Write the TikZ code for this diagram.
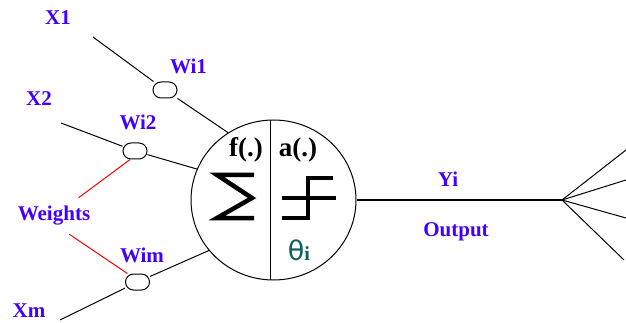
\documentclass[tikz,border=0pt]{standalone}
\usepackage{fontspec}
\setmainfont{Liberation Serif}
\newfontfamily\thetafont{DejaVu Sans}
\usetikzlibrary{positioning, shapes.geometric}
\definecolor{labelblue}{HTML}{4400FF}
\definecolor{thetateal}{HTML}{0F5F5F}
\tikzset{
  lbl/.style={text=labelblue, font=\bfseries\fontsize{21}{23}\selectfont, inner sep=0pt},
  blk/.style={text=black, font=\bfseries\fontsize{27}{29}\selectfont, inner sep=0pt},
  weightbox/.style={draw, rounded corners=8pt, minimum width=24pt, minimum height=16pt, inner sep=0pt, line width=1pt},
  wire/.style={line width=1pt},
  redwire/.style={red, line width=1pt},
  glyph/.style={line width=4.5pt, line cap=butt, line join=miter}
}
\begin{document}
\begin{tikzpicture}[x=1pt, y=-1pt]
    \useasboundingbox (0,0) rectangle (626,323);
    \node[draw, ellipse, minimum width=165pt, minimum height=160pt, inner sep=0pt, line width=1pt] (cell) at (273.5,200) {};
    \node[weightbox] (w1) at (165,90) {};
    \node[weightbox] (w2) at (135,151) {};
    \node[weightbox] (wm) at (137.5,282) {};
    \coordinate (x1) at (93,37);
    \coordinate (x2) at (61,123);
    \coordinate (xm) at (60,320);
    \coordinate (hub) at (562,200);
    \coordinate (o1) at (626,150);
    \coordinate (o2) at (626,180);
    \coordinate (o3) at (626,218);
    \coordinate (o4) at (624,260);
    % labels
    \node[lbl] (lx1) at (58,18) {X1};
    \node[lbl] (lx2) at (39,99) {X2};
    \node[lbl] (lxm) at (29,311) {Xm};
    \node[lbl, above=7pt of w1.north east, xshift=11pt] (lw1) {Wi1};
    \node[lbl] (lw2) at (138,122) {Wi2};
    \node[lbl] (lwm) at (142,255) {Wim};
    \node[lbl, minimum height=36pt] (weights) at (54,216) {Weights};
    \node[lbl] (yi) at (448,179) {Yi};
    \node[lbl] (output) at (456,232) {Output};
    \node[blk] (fn) at (246,150) {f(.)};
    \node[blk] (an) at (298,150) {a(.)};
    \node[text=thetateal, font=\fontsize{20}{22}\selectfont, inner sep=0pt] (theta) at (299,250) {{\thetafont\fontsize{27}{29}\selectfont θ}\textbf{i}};
    % connectors
    \draw[wire] (x1) -- (w1);
    \draw[wire] (w1) -- (cell.124);
    \draw[wire] (x2) -- (w2);
    \draw[wire] (w2) -- (cell.158);
    \draw[wire] (xm) -- (wm);
    \draw[wire] (wm) -- (cell.218);
    \draw[redwire] (weights) -- (w2.240);
    \draw[redwire] (weights.310) -- (wm.140);
    \draw[line width=1.5pt] (cell.east) -- (hub);
    \draw[wire] (hub) -- (o1);
    \draw[wire] (hub) -- (o2);
    \draw[wire] (hub) -- (o3);
    \draw[wire] (hub) -- (o4);
    % divider, sum and step
    \draw[line width=1pt] (cell.92) -- (cell.268);
    \draw[glyph] (254,175) -- (217,175) -- (252,198) -- (217,218) -- (254,218);
    \draw[glyph] (282,198) -- (336,198);
    \draw[glyph] (333,178) -- (308,178) -- (308,218) -- (282,218);
\end{tikzpicture}
\end{document}
